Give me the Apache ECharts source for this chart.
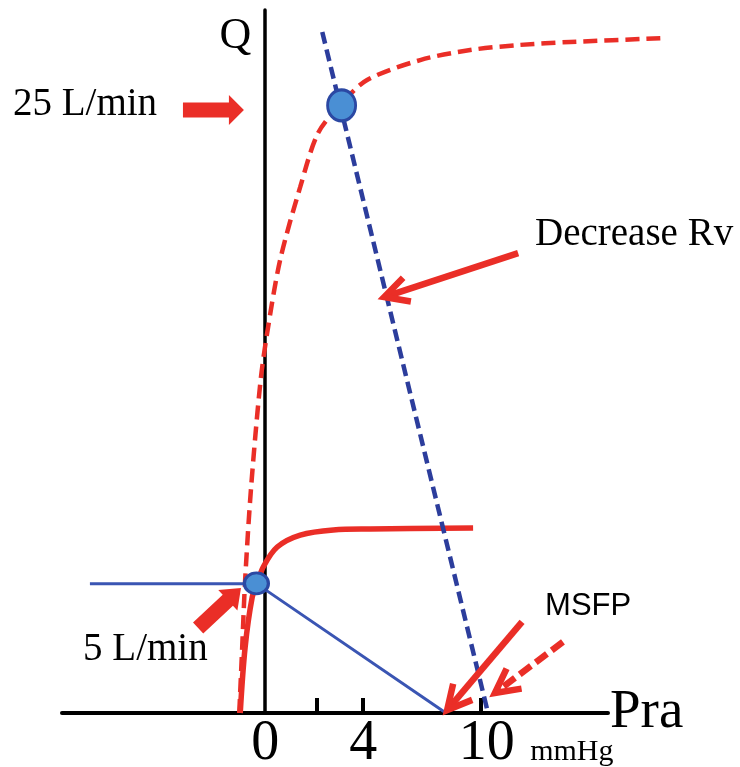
<!DOCTYPE html>
<html>
<head>
<meta charset="utf-8">
<script src="https://cdn.jsdelivr.net/npm/echarts@6/dist/echarts.min.js"></script>
<style>
  html, body { margin: 0; padding: 0; background: #fff; }
  #chart { width: 740px; height: 767px; }
</style>
</head>
<body>
<div id="chart"></div>
<script>
// x = Pra (mmHg, drawing units), y = Q (L/min)
const cardiacHigh = [
  [-1.06, 0], [-0.94, 2.70], [-0.82, 5.45], [-0.58, 9.2], [-0.20, 13.52],
  [0.08, 15.57], [0.61, 18.56], [1.43, 21.55], [2.16, 23.76], [3.10, 24.95],
  [4.16, 25.93], [6.33, 26.75], [8.37, 27.16], [10.41, 27.37], [12.45, 27.49], [16.41, 27.65]
];
const cardiacNormal = [
  [-1.02, 0], [-0.82, 2.70], [-0.53, 4.75], [-0.33, 5.28], [-0.08, 5.98],
  [0.49, 6.80], [1.43, 7.29], [2.78, 7.50], [4.29, 7.54], [8.49, 7.58]
];
const venousNormal = [[-7.16, 5.30], [-0.36, 5.30], [7.38, 0]];
const venousLowRv = [[2.33, 27.90], [9.10, 0]];
const equilibria = [[-0.36, 5.31], [3.12, 24.89]];

const tickValues = [2.1, 4, 8.8];
const tickLabels = [[0, '0'], [4, '4'], [9.05, '10']];

// arrows: [fromX, fromY, toX, toY]
const blockArrows = [[-3.36, 24.70, -0.87, 24.70], [-2.74, 3.48, -0.99, 5.12]];
const lineArrows = [[10.33, 18.84, 4.86, 17.04], [10.49, 3.73, 7.43, 0.12]];
const dashedArrows = [[12.16, 2.91, 9.38, 0.82]];

// notes: [x, y, text]
const notes = [
  [-10.30, 24.91, '25 L/min'],
  [11.02, 19.58, 'Decrease Rv'],
  [-7.44, 2.60, '5 L/min'],
  [11.43, 4.38, 'MSFP'],
  [10.82, -1.60, 'mmHg']
];

const X_MIN = -8.3, X_MAX = 14, X_MAX_WIDE = 16.7, Y_MAX = 28.8;
const PX_PER_X = 546 / (X_MAX - X_MIN);

const RED = '#ea2e27';
const SERIF = '"Liberation Serif", "Times New Roman", serif';
const SANS = '"Liberation Sans", Arial, sans-serif';
const noteFont = {
  '25 L/min': [39, SERIF],
  'Decrease Rv': [39, SERIF],
  '5 L/min': [39, SERIF],
  'MSFP': [31, SANS],
  'mmHg': [30, SERIF]
};
const blockShape = [{ shaft: 7.5, head: 15, len: 15 }, { shaft: 7.5, head: 14, len: 18 }];

function frame(api) {
  const a = api.coord([api.value(0), api.value(1)]);
  const b = api.coord([api.value(2), api.value(3)]);
  const dx = b[0] - a[0], dy = b[1] - a[1], l = Math.hypot(dx, dy);
  const ux = dx / l, uy = dy / l;
  return { a, b, ux, uy, nx: -uy, ny: ux };
}

function renderBlock(params, api) {
  const f = frame(api), s = blockShape[params.dataIndex];
  const bx = f.b[0] - f.ux * s.len, by = f.b[1] - f.uy * s.len;
  const pt = (x, y, k) => [x + f.nx * k, y + f.ny * k];
  return {
    type: 'polygon',
    shape: { points: [
      pt(f.a[0], f.a[1], s.shaft), pt(bx, by, s.shaft), pt(bx, by, s.head), f.b,
      pt(bx, by, -s.head), pt(bx, by, -s.shaft), pt(f.a[0], f.a[1], -s.shaft)
    ] },
    style: { fill: RED }
  };
}

function lineArrowRenderer(dash) {
  return function (params, api) {
    const f = frame(api);
    const back = 24, out = 12.5;
    const arm = k => [f.b[0] - f.ux * back + f.nx * k, f.b[1] - f.uy * back + f.ny * k];
    const end = [f.b[0] - f.ux * 3, f.b[1] - f.uy * 3];
    return {
      type: 'group',
      children: [
        { type: 'polyline', shape: { points: [f.a, end] },
          style: { stroke: RED, lineWidth: 6.5, fill: null, lineDash: dash } },
        { type: 'polyline', shape: { points: [arm(out), f.b, arm(-out)] },
          style: { stroke: RED, lineWidth: 6.5, fill: null, lineJoin: 'miter' } }
      ]
    };
  };
}

const hidden = { show: false };
const chart = echarts.init(document.getElementById('chart'));
chart.setOption({
  animation: false,
  backgroundColor: '#fff',
  grid: [
    { left: 62, top: 10, width: 546, height: 703, outerBoundsMode: 'none' },
    // same scale, wider, for the curve that runs past the end of the Pra axis
    { left: 62, top: 10, width: PX_PER_X * (X_MAX_WIDE - X_MIN), height: 703, outerBoundsMode: 'none' }
  ],
  xAxis: [{
    type: 'value', min: X_MIN, max: X_MAX,
    splitLine: { show: false },
    axisLine: { onZero: false, lineStyle: { color: '#000', width: 4 } },
    axisTick: { show: true, inside: true, length: 15, customValues: tickValues,
      lineStyle: { color: '#000', width: 4 } },
    axisLabel: {
      customValues: tickLabels.map(d => d[0]),
      formatter: v => (tickLabels.find(d => Math.abs(d[0] - v) < 1e-6) || [0, ''])[1],
      fontSize: 56, fontFamily: SERIF, color: '#000', margin: 3
    },
    name: 'Pra', nameLocation: 'end', nameGap: 2,
    nameTextStyle: { fontSize: 55, fontFamily: SERIF, color: '#000', padding: [0, 0, 26, 0] }
  }, {
    type: 'value', gridIndex: 1, min: X_MIN, max: X_MAX_WIDE,
    axisLine: hidden, axisTick: hidden, axisLabel: hidden, splitLine: hidden
  }],
  yAxis: [{
    type: 'value', min: 0, max: Y_MAX,
    splitLine: { show: false },
    axisLine: { onZero: true, lineStyle: { color: '#000', width: 3.5 } },
    axisTick: { show: false },
    axisLabel: { show: false },
    name: 'Q', nameLocation: 'end', nameGap: -26,
    nameTextStyle: { fontSize: 44, fontFamily: SERIF, color: '#000',
      align: 'right', verticalAlign: 'middle', padding: [0, 14, 0, 0] }
  }, {
    type: 'value', gridIndex: 1, min: 0, max: Y_MAX,
    axisLine: hidden, axisTick: hidden, axisLabel: hidden, splitLine: hidden
  }],
  series: [
    { type: 'line', data: cardiacHigh, xAxisIndex: 1, yAxisIndex: 1,
      smooth: 0.3, symbol: 'none', clip: false, z: 3,
      lineStyle: { color: RED, width: 4.5, type: [14, 7] } },
    { type: 'line', data: cardiacNormal, smooth: 0.35, symbol: 'none', clip: false, z: 3,
      lineStyle: { color: RED, width: 5.5 } },
    { type: 'line', data: venousNormal, symbol: 'none', clip: false, z: 4,
      lineStyle: { color: '#3a55b3', width: 3 } },
    { type: 'line', data: venousLowRv, symbol: 'none', clip: false, z: 4,
      lineStyle: { color: '#2c3d9c', width: 4.5, type: [12, 6] } },
    { type: 'scatter', data: equilibria, z: 6,
      symbolSize: (v, p) => (p.dataIndex === 0 ? [24, 21] : [28, 31]),
      itemStyle: { color: '#4a8fd4', borderColor: '#2b48a3', borderWidth: 3, opacity: 1 } },
    { type: 'custom', data: blockArrows, renderItem: renderBlock, clip: false, z: 5 },
    { type: 'custom', data: lineArrows, renderItem: lineArrowRenderer(null), clip: false, z: 5 },
    { type: 'custom', data: dashedArrows, renderItem: lineArrowRenderer([14, 6]), clip: false, z: 5 },
    { type: 'custom', data: notes.map(n => [n[0], n[1]]), clip: false, z: 5,
      renderItem: (params, api) => {
        const t = notes[params.dataIndex][2];
        const p = api.coord([api.value(0), api.value(1)]);
        return { type: 'text', x: p[0], y: p[1],
          style: { text: t, fontSize: noteFont[t][0], fontFamily: noteFont[t][1], fill: '#000',
            align: 'left', verticalAlign: 'middle' } };
      } }
  ]
});
</script>
</body>
</html>
